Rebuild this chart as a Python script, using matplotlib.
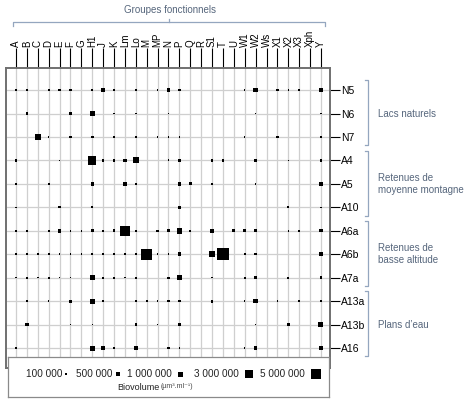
import matplotlib
matplotlib.use('Agg')
import matplotlib.pyplot as plt
import numpy as np
from matplotlib.transforms import blended_transform_factory

plt.rcParams['font.family'] = ['Liberation Sans', 'DejaVu Sans']

# ---------------- data ----------------
groups = ['A', 'B', 'C', 'D', 'E', 'F', 'G', 'H1', 'J', 'K', 'Lm', 'Lo', 'M', 'MP',
          'N', 'P', 'Q', 'R', 'S1', 'T', 'U', 'W1', 'W2', 'Ws', 'X1', 'X2', 'X3',
          'Xph', 'Y']
sites = ['N5', 'N6', 'N7', 'A4', 'A5', 'A10', 'A6a', 'A6b', 'A7a', 'A13a', 'A13b', 'A16']

# biovolume in thousands of µm3/ml, one value per functional group (order of `groups`)
#         A    B    C    D    E    F    G   H1    J    K   Lm   Lo     M   MP    N     P    Q  R   S1     T    U   W1   W2 Ws  X1   X2  X3 Xph   Y
N5   = [ 50, 150,   0, 150, 150, 150,   0, 150, 400, 150,   0, 150,    0,  50, 500,  150,   0, 0,    0,    0,   0,  50, 700, 0, 150,  50, 50, 0, 500]
N6   = [  0, 250,   0,   0,   0, 250,   0,1200,   0,  50,   0,  50,    0,   0,  50,    0,   0, 0,    0,    0,   0,   0,  50, 0,   0,   0,  0, 0,  50]
N7   = [  0,   0,1650,  50,   0, 150,   0, 250,   0,  50,   0,  50,    0,  50,  50,   50,   0, 0,    0,    0,   0,  50,   0, 0, 250,   0,  0, 0,  50]
A4   = [150,   0,   0,   0,  50,   0,   0,3150, 150, 150, 400,1500,    0,   0, 100,  250,   0, 0,  150,  150,   0,   0, 250, 0,   0,  50,  0, 0, 150]
A5   = [150,   0,   0, 150,   0,   0,   0, 400,   0,   0, 500,  50,    0,   0,   0,  400, 250, 0,   50,    0,   0,   0,  50, 0,   0,   0,  0, 0, 400]
A10  = [ 50,   0,   0,   0, 150,   0,   0, 100,   0,   0,   0,   0,    0,   0,   0,  400,   0, 0,    0,    0,   0,   0,   0, 0,   0, 150,  0, 0,  50]
A6a  = [ 50,  50,   0, 150, 500,  50,  50, 250, 150, 250,5000, 150,    0, 150, 250, 1250, 150, 0,  500,    0, 250, 250, 250, 0,   0,  50, 50, 0, 400]
A6b  = [150,  50, 150, 150,  50,  50,  50, 100,  50,  50, 150, 150, 5300,  50,  50,  500,   0, 0, 1500, 6000,   0, 150, 150, 0,   0,   0,  0, 0, 700]
A7a  = [ 50, 150,  50, 150,  50,  50,   0,1000, 150, 150,  50, 150,    0,   0, 150,  850,   0, 0,   50,    0,   0, 150, 250, 0,   0, 150,  0, 0, 250]
A13a = [  0,  50,   0,  50,   0, 250,   0,1000, 100,   0,   0,  50,  100,  50, 150,  150,   0, 0,  250,    0,   0,  50, 850, 0,  50,   0, 50, 0,  50]
A13b = [  0, 400,   0,   0,   0,  50,   0,  50,   0,   0,   0, 150,    0,  50,   0,  150,   0, 0,    0,    0,   0,   0,  50, 0,   0, 250,  0, 0,1000]
A16  = [250,   0,   0,   0,   0,   0,   0,1000, 500, 250,   0, 500,    0,   0, 250,   50,   0, 0,    0,    0,   0,  50, 400, 0,   0,   0,  0, 0, 400]

site_values = [N5, N6, N7, A4, A5, A10, A6a, A6b, A7a, A13a, A13b, A16]

site_types = ['Lacs naturels', 'Retenues de\nmoyenne montagne',
              'Retenues de\nbasse altitude', 'Plans d\u2019eau']
site_type_ranges = [('N5', 'N7'), ('A4', 'A10'), ('A6a', 'A7a'), ('A13a', 'A16')]

legend_values = [100000, 500000, 1000000, 3000000, 5000000]
legend_labels = ['100 000', '500 000', '1 000 000', '3 000 000', '5 000 000']

# ---------------- style ----------------
W, H = 474, 399
DPI = 100
TEXT_GREY = '#56667c'
BRACKET = '#94a6bf'


def marker_area(v):
    side_px = 0.5 + 4.5 * np.sqrt(np.asarray(v, dtype=float) / 1e6)
    return (side_px * 72.0 / DPI) ** 2


fig = plt.figure(figsize=(W / DPI, H / DPI), dpi=DPI)
ax = fig.add_axes([6 / W, 1 - 368 / H, 324 / W, 300 / H])

xs, ys, vs = [], [], []
for r, row in enumerate(site_values):
    for c, v in enumerate(row):
        if v > 0:
            xs.append(c)
            ys.append(r)
            vs.append(v * 1000)
ax.scatter(xs, ys, s=marker_area(vs), marker='s', color='black', linewidths=0, zorder=3)

ax.set_xlim(-0.92, len(groups) - 1 + 0.83)
ax.set_ylim(len(sites) - 1 + 0.85, -0.94)

ax.set_xticks(range(len(groups)))
ax.set_xticklabels(groups)
ax.xaxis.set_ticks_position('top')
ax.tick_params(axis='x', length=14.4, width=0.8, color='black', pad=1,
               labelsize=7, labelrotation=90)
ax.set_yticks(range(len(sites)))
ax.set_yticklabels(sites)
ax.yaxis.set_ticks_position('right')
ax.tick_params(axis='y', length=7.2, width=0.8, color='black', pad=1, labelsize=7.5)

ax.set_axisbelow(True)
ax.grid(True, color='#cfcfcf', linewidth=0.9)
for sp in ax.spines.values():
    sp.set_color('#707070')
    sp.set_linewidth(1.4)

# overlay in pixel coordinates for decorations
ov = fig.add_axes([0, 0, 1, 1], zorder=5)
ov.set_xlim(0, W)
ov.set_ylim(H, 0)
ov.axis('off')

# top bracket + title
ov.plot([13, 13, 325, 325], [26, 22, 22, 26], color=BRACKET, lw=0.9)
ov.plot([169, 169], [22, 18.5], color=BRACKET, lw=0.9)
ov.text(170, 10, 'Groupes fonctionnels', ha='center', va='center', fontsize=7,
        color=TEXT_GREY)

# right brackets
tr = blended_transform_factory(ov.transData, ax.transData)
for label, (r0, r1) in zip(site_types, site_type_ranges):
    i0, i1 = sites.index(r0), sites.index(r1)
    y0, y1 = i0 - 0.42, i1 + 0.35
    ov.plot([365, 368, 368, 365], [y0, y0, y1, y1], color=BRACKET, lw=0.9,
            transform=tr, clip_on=False)
    ov.text(378, (i0 + i1) / 2, label, ha='left', va='center', fontsize=7,
            color=TEXT_GREY, transform=tr, linespacing=1.25)

# legend box
lg = fig.add_axes([8 / W, 1 - 397 / H, 321 / W, 40 / H], zorder=6)
lg.set_xlim(0, 321)
lg.set_ylim(40, 0)
lg.set_xticks([])
lg.set_yticks([])
lg.set_facecolor('white')
for sp in lg.spines.values():
    sp.set_color('#8a8a8a')
    sp.set_linewidth(0.9)

legend_marker_x = [58, 110, 172, 241, 308]
legend_text_right = [55, 105, 164, 231, 297]
lg.scatter(legend_marker_x, [17] * len(legend_values), s=marker_area(legend_values),
           marker='s', color='black', linewidths=0)
for xt, lab in zip(legend_text_right, legend_labels):
    lg.text(xt, 17, lab, ha='right', va='center', fontsize=7.2, color='#222222')
lg.text(152, 30, 'Biovolume', ha='right', va='center', fontsize=6.5, color='#222222')
lg.text(153, 30, '(\u00b5m\u00b3.ml\u207b\u00b9)', ha='left', va='center', fontsize=5,
        color='#444444')

fig.savefig('out.png', dpi=DPI)
